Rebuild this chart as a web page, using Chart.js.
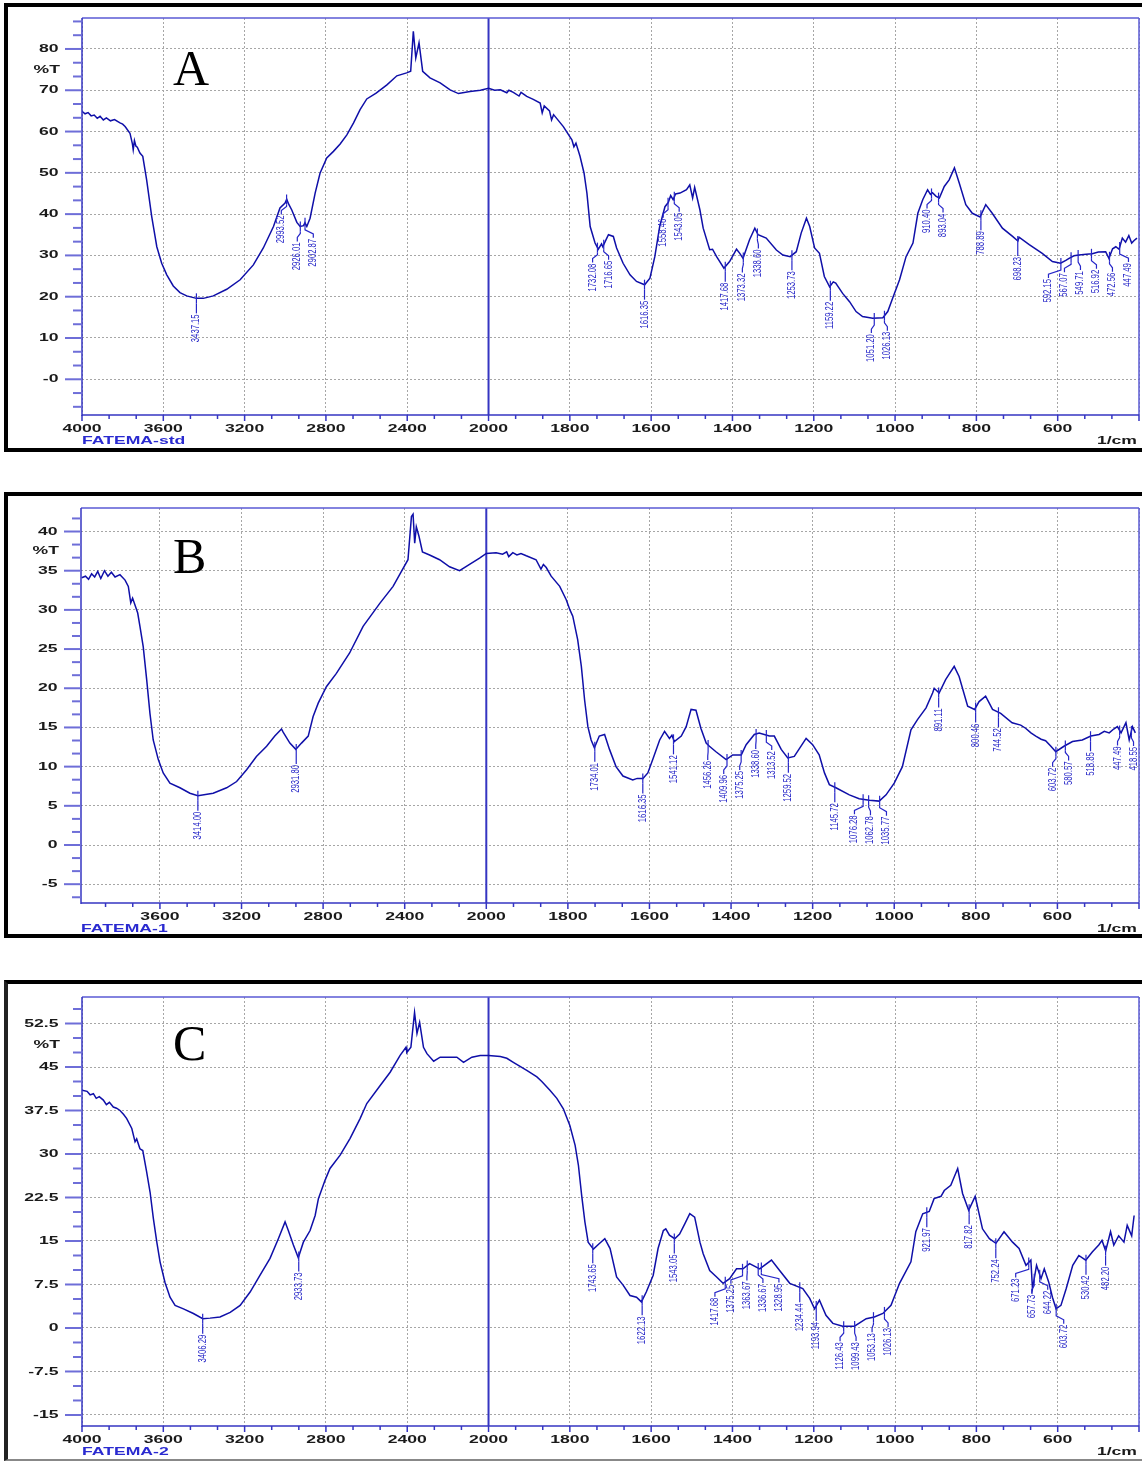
<!DOCTYPE html>
<html><head><meta charset="utf-8">
<script src="https://cdn.jsdelivr.net/npm/chart.js@4.4.1/dist/chart.umd.min.js"></script>
<style>
html,body{margin:0;padding:0;background:#fff;}
body{width:1142px;height:1462px;position:relative;overflow:hidden;}
.box{position:absolute;box-sizing:border-box;}
canvas{position:absolute;left:0;}
</style></head><body>
<div class="box" style="left:4px;top:3px;width:1200px;height:449px;border:4px solid #000"></div>
<div class="box" style="left:4px;top:492px;width:1200px;height:446px;border:4px solid #000"></div>
<div class="box" style="left:4px;top:980px;width:1200px;height:481px;border-top:4px solid #000;border-left:4px solid #222;border-bottom:2px solid #888"></div>
<canvas id="cA" width="1142" height="455" style="top:0;width:1142px;height:455px"></canvas>
<canvas id="cB" width="1142" height="460" style="top:480px;width:1142px;height:460px"></canvas>
<canvas id="cC" width="1142" height="487" style="top:975px;width:1142px;height:487px"></canvas>
<script>
// ---------- DATA ----------
// Panel A (FATEMA-std): wavenumber (1/cm) and %T
const wnA = [4000,3985,3970,3955,3940,3925,3911,3895,3880,3860,3840,3813,3800,3788,3764,3752,3748,3742,3735,3728,3715,3701,3682,3657,3646,3632,3608,3583,3551,3518,3485,3437,3403,3354,3288,3222,3157,3108,3058,3026,3001,2993,2985,2968,2943,2927,2910,2903,2894,2878,2853,2829,2796,2763,2730,2697,2664,2632,2599,2553,2500,2451,2403,2383,2370,2358,2342,2324,2288,2238,2189,2148,2091,2040,2000,1985,1971,1955,1950,1939,1925,1920,1906,1890,1873,1868,1863,1850,1845,1840,1816,1795,1790,1785,1775,1765,1758,1750,1738,1730,1722,1719,1710,1705,1693,1685,1669,1652,1636,1616,1603,1591,1579,1566,1558,1552,1546,1540,1529,1513,1505,1498,1493,1480,1472,1456,1449,1439,1421,1407,1390,1382,1374,1358,1345,1337,1317,1292,1276,1258,1243,1231,1218,1210,1198,1186,1174,1161,1152,1146,1129,1112,1096,1080,1055,1030,1018,1006,989,973,956,944,932,920,913,908,899,891,879,867,854,842,826,810,791,777,761,736,711,698,695,670,638,613,593,580,572,560,548,530,515,500,482,474,465,457,449,441,433,425,418,412,405];
const tA  = [64.9,64.3,64.6,63.8,64.0,63.2,63.7,62.8,63.3,62.6,62.9,62.1,61.8,61.2,59.6,57.0,55.6,57.8,56.5,56.2,54.8,54.0,48.3,39.4,36.2,32.1,28.1,25.3,22.6,21.0,20.2,19.6,19.6,20.2,21.8,24.1,27.7,31.8,37.0,41.5,42.7,43.6,42.6,41.0,38.0,37.0,37.2,37.9,37.0,39.0,45.1,49.9,53.6,55.2,57.0,59.2,62.1,65.3,67.9,69.3,71.3,73.5,74.2,74.6,84.3,77.8,81.5,74.6,73.0,71.8,70.1,69.2,69.7,70.0,70.5,70.0,70.1,69.4,70.0,69.5,68.6,69.5,68.5,67.8,66.9,64.5,66.2,65.0,62.8,64.1,61.2,58.0,56.3,57.2,54.0,49.9,45.1,37.0,33.0,31.5,32.8,32.1,34.0,35.0,34.6,31.8,28.1,25.3,23.7,22.9,24.5,29.7,37.0,41.8,42.8,44.5,43.5,44.9,45.1,45.9,47.1,43.9,46.5,41.0,36.6,31.4,31.5,29.7,26.9,28.5,31.5,30.5,29.3,33.8,36.6,35.0,34.2,31.3,30.1,29.7,30.9,35.4,39.0,37.0,31.8,30.5,24.9,22.4,23.6,23.3,20.8,18.8,16.4,15.2,14.8,14.9,16.4,19.6,24.1,29.7,33.0,40.2,43.5,45.9,44.8,45.2,44.3,43.9,46.7,48.3,51.2,47.5,42.3,40.2,39.3,42.3,40.2,36.6,34.6,33.5,34.4,32.6,30.5,28.5,28.1,28.8,29.3,29.9,30.1,30.3,30.4,30.8,30.9,29.3,31.6,32.1,31.5,34.2,33.2,34.8,33.0,33.6,34.2];
const peaksA = [3437.15,2993.52,2926.01,2902.87,1732.08,1716.65,1616.35,1558.46,1543.05,1417.68,1373.32,1338.60,1253.73,1159.22,1051.20,1026.13,910.40,893.04,788.89,698.23,592.15,567.07,549.71,516.92,472.56,447.49];

// Panel B (FATEMA-1)
const wnB = [3984,3965,3950,3935,3920,3905,3890,3872,3855,3838,3820,3796,3771,3755,3743,3734,3722,3709,3698,3682,3665,3649,3633,3608,3584,3551,3502,3453,3414,3339,3273,3224,3175,3127,3077,3037,3004,2996,2963,2934,2906,2873,2849,2824,2784,2735,2670,2604,2523,2457,2384,2367,2359,2351,2343,2330,2313,2278,2229,2180,2131,2082,2033,2000,1976,1960,1950,1945,1935,1925,1915,1902,1878,1866,1860,1853,1841,1820,1804,1795,1788,1776,1767,1759,1751,1743,1735,1723,1710,1698,1682,1665,1641,1630,1616,1604,1592,1575,1563,1551,1545,1539,1522,1510,1498,1486,1474,1461,1453,1437,1412,1396,1375,1363,1343,1331,1306,1294,1277,1261,1245,1216,1200,1184,1171,1159,1143,1110,1086,1061,1037,1020,1000,980,959,943,922,906,902,890,874,853,841,820,803,792,776,759,739,711,690,678,665,653,640,629,616,604,584,563,539,518,498,485,473,462,453,444,432,424,416,409];
const tB  = [34.1,34.3,33.9,34.6,34.2,34.9,34.0,35.0,34.3,34.8,34.2,34.5,33.8,33.0,30.9,31.5,30.6,29.6,27.9,25.3,21.1,16.8,13.4,10.9,9.2,7.9,7.3,6.6,6.3,6.6,7.3,8.1,9.6,11.3,12.6,13.9,14.8,14.4,13.0,12.2,13.0,13.9,16.4,18.1,20.2,21.9,24.5,27.9,30.8,33.0,36.4,41.9,42.2,38.5,40.6,39.4,37.4,37.0,36.4,35.5,35.0,35.8,36.6,37.2,37.3,37.1,37.4,36.8,37.3,37.0,37.2,36.9,36.4,35.2,35.8,35.4,34.3,33.0,31.3,30.0,29.2,26.2,22.8,18.5,15.1,13.4,12.4,13.9,14.1,12.2,10.0,8.8,8.3,8.5,8.5,9.2,10.9,13.4,14.5,13.6,14.0,13.2,13.9,15.1,17.3,17.2,14.9,13.0,12.6,11.9,10.9,11.5,11.5,12.8,14.1,14.3,13.9,13.9,12.2,11.1,11.3,13.6,12.8,11.5,9.2,7.7,7.3,6.4,5.9,5.7,5.6,6.4,7.9,10.0,14.7,16.0,17.5,19.4,20.0,19.4,21.1,22.8,21.5,17.7,17.3,18.3,19.0,17.3,16.8,15.6,15.3,14.9,14.3,13.9,13.5,13.3,12.6,11.9,12.6,13.2,13.4,13.9,14.1,14.5,14.3,14.8,15.1,14.3,15.6,13.4,15.1,14.3];
const peaksB = [3414.00,2931.80,1734.01,1616.35,1541.12,1456.26,1409.96,1375.25,1338.60,1313.52,1259.52,1145.72,1076.28,1062.78,1035.77,891.11,800.46,744.52,603.72,580.57,518.85,447.49,418.55];

// Panel C (FATEMA-2)
const wnC = [4000,3975,3960,3944,3930,3915,3895,3880,3865,3846,3830,3813,3795,3780,3755,3739,3731,3715,3701,3682,3665,3649,3632,3616,3592,3567,3542,3501,3452,3406,3370,3321,3271,3222,3173,3124,3075,3034,3001,2985,2960,2936,2911,2878,2853,2837,2804,2780,2730,2681,2632,2599,2533,2484,2435,2406,2402,2382,2364,2352,2339,2320,2303,2270,2238,2156,2123,2082,2041,2000,1971,1955,1939,1906,1881,1869,1849,1832,1816,1800,1787,1779,1771,1763,1755,1742,1730,1714,1701,1685,1669,1652,1636,1624,1612,1595,1583,1570,1564,1555,1542,1530,1517,1505,1493,1480,1472,1456,1439,1423,1407,1390,1374,1358,1333,1304,1284,1259,1227,1210,1198,1186,1170,1153,1129,1100,1071,1051,1030,1010,989,961,949,932,916,904,887,879,863,846,834,819,803,785,768,752,732,711,695,678,666,662,652,641,633,622,613,604,592,579,563,548,531,515,499,491,482,470,462,450,437,429,418,412];
const tC  = [41.0,40.8,40.2,40.4,39.6,39.9,39.3,38.5,38.9,38.1,37.9,37.5,36.8,36.1,34.4,32.1,32.6,30.9,30.6,26.9,23.4,18.9,14.8,11.4,7.9,5.3,3.9,3.3,2.5,1.6,1.7,1.9,2.7,3.9,6.2,9.1,12.0,15.4,18.3,16.8,14.3,12.1,14.8,16.8,19.4,22.3,25.5,27.5,29.8,32.7,36.1,38.7,41.8,44.1,47.0,48.4,47.5,48.4,54.4,50.8,52.7,48.4,47.3,46.0,46.7,46.7,45.8,46.7,47.0,47.0,46.8,46.5,45.8,44.4,43.3,42.5,41.0,39.6,37.8,34.9,31.5,28.1,22.9,18.3,14.8,13.6,14.4,15.4,13.7,8.8,7.4,5.6,5.3,4.5,6.2,9.1,13.7,16.8,17.1,16.0,15.4,16.2,18.0,19.7,19.1,14.8,12.8,9.9,8.8,7.7,8.5,10.2,10.2,11.1,10.2,11.7,9.9,7.7,6.8,5.1,3.3,4.8,2.2,0.8,0.3,0.3,1.6,1.9,2.5,3.9,7.7,11.4,16.6,19.7,20.1,22.3,22.7,23.7,24.6,27.5,23.2,20.3,22.7,17.1,15.4,14.6,16.6,14.8,13.7,10.8,11.7,6.8,10.8,8.5,10.2,7.9,5.3,3.3,3.9,6.8,10.8,12.5,11.7,13.1,14.3,15.1,13.3,16.6,14.3,15.9,14.8,17.7,15.9,19.4];
const peaksC = [3406.29,2933.73,1743.65,1622.13,1543.05,1417.68,1375.25,1363.67,1336.67,1328.95,1234.44,1193.94,1126.43,1099.43,1053.13,1026.13,921.97,817.82,752.24,671.23,657.73,644.22,603.72,530.42,482.20];

// Tick values / labels
const xTickWn = [4000,3600,3200,2800,2400,2000,1800,1600,1400,1200,1000,800,600];
const yTicksA = [0,10,20,30,40,50,60,70,80];
const yLabA   = ['-0','10','20','30','40','50','60','70','80'];
const yTicksB = [-5,0,5,10,15,20,25,30,35,40];
const yLabB   = ['-5','0','5','10','15','20','25','30','35','40'];
const yTicksC = [-15,-7.5,0,7.5,15,22.5,30,37.5,45,52.5];
const yLabC   = ['-15','-7.5','0','7.5','15','22.5','30','37.5','45','52.5'];

// ---------- DRAWING ----------
const CURVE='#0f0fa8', LBL='#2626c8', AXIS='#3535c2', TICKC='#6e6ed8', GRID='#a6a6a6', FRAME='#5a5ad4';
const TF='bold 11px "Liberation Sans", Arial, sans-serif';
const SX=1.6;
function toU(w){return w>=2000?(4000-w)/2:1000+(2000-w);}
function interp(ws,ts,w){for(let i=0;i<ws.length-1;i++){if(w<=ws[i]&&w>=ws[i+1]){const f=(ws[i]-w)/(ws[i]-ws[i+1]);return ts[i]+f*(ts[i+1]-ts[i]);}}return ts[ts.length-1];}
function sText(ctx,s,x,y,align,sx,font,color){ctx.save();ctx.font=font;ctx.fillStyle=color;ctx.textBaseline='middle';ctx.textAlign='left';const w=ctx.measureText(s).width*sx;const l=align==='center'?x-w/2:(align==='right'?x-w:x);ctx.translate(l,y);ctx.scale(sx,1);ctx.fillText(s,0,0);ctx.restore();}
function line(ctx,x1,y1,x2,y2){ctx.beginPath();ctx.moveTo(x1,y1);ctx.lineTo(x2,y2);ctx.stroke();}

function makePlugin(m){
  return {
    id:'ftir'+m.key,
    beforeDatasetsDraw(ch){
      const ctx=ch.ctx,ca=ch.chartArea,x=ch.scales.x.getPixelForValue(1000);
      ctx.save();ctx.strokeStyle=AXIS;ctx.lineWidth=2;line(ctx,x,ca.top,x,ca.bottom);ctx.restore();
    },
    afterDraw(ch){
      const ctx=ch.ctx,ca=ch.chartArea,xs=ch.scales.x,ys=ch.scales.y;
      ctx.save();
      ctx.strokeStyle=FRAME;ctx.lineWidth=1.5;
      line(ctx,ca.left,ca.top,ca.right,ca.top);line(ctx,ca.right,ca.top,ca.right,ca.bottom);
      ctx.strokeStyle=AXIS;
      line(ctx,ca.left,ca.top,ca.left,ca.bottom+1);line(ctx,ca.left,ca.bottom,ca.right,ca.bottom);
      const step=(m.yTicks[1]-m.yTicks[0])/3;
      ctx.strokeStyle=TICKC;ctx.lineWidth=2;
      for(let k=Math.ceil(m.yMin/step);k*step<=m.yMax;k++){
        const v=k*step,y=ys.getPixelForValue(v);
        const major=Math.abs(Math.round(k/3)*3-k)<1e-6;
        line(ctx,ca.left-(major?17:9),y,ca.left,y);
      }
      m.yTicks.forEach((v,i)=>sText(ctx,m.yLab[i],ca.left-23.5,ys.getPixelForValue(v),'right',SX,TF,'#1a1a1a'));
      const n=m.yTicks.length;
      sText(ctx,'%T',ca.left-22,(ys.getPixelForValue(m.yTicks[n-1])+ys.getPixelForValue(m.yTicks[n-2]))/2,'right',SX,TF,'#1a1a1a');
      ctx.strokeStyle=AXIS;ctx.lineWidth=1.5;
      for(let k=0;k<=39;k++){
        const u=k*200/3; if(u<m.xMin-0.01) continue;
        const x=xs.getPixelForValue(u);
        line(ctx,x,ca.bottom,x,ca.bottom+(k%3===0?6:4));
      }
      xTickWn.forEach(w=>{const u=toU(w); if(u<m.xMin) return; sText(ctx,String(w),xs.getPixelForValue(u),ca.bottom+13.5,'center',SX,TF,'#1a1a1a');});
      sText(ctx,m.name,ca.left,ca.bottom+26,'left',SX,TF,'#2a2ad0');
      sText(ctx,'1/cm',1137,ca.bottom+26,'right',SX,TF,'#1a1a1a');
      ctx.font='50px "Liberation Serif", "Times New Roman", serif';ctx.fillStyle='#000';ctx.textBaseline='alphabetic';ctx.textAlign='left';
      ctx.fillText(m.letter,173,m.letterY);
      ctx.restore();
      // peak labels
      ctx.save();
      ctx.beginPath();ctx.rect(ca.left,ca.top,ca.right-ca.left,ca.bottom-ca.top);ctx.clip();
      const items=m.peaks.map(w=>({px:xs.getPixelForValue(toU(w)),py:ys.getPixelForValue(interp(m.wn,m.t,w)),txt:w.toFixed(2)}));
      items.sort((a,b)=>a.px-b.px);items.forEach(it=>it.tx=it.px);
      const gap=16;
      for(let it=0;it<80;it++){for(let i=0;i<items.length-1;i++){const d=items[i+1].tx-items[i].tx;if(d<gap){const s=(gap-d)/2;items[i].tx-=s;items[i+1].tx+=s;}}}
      ctx.strokeStyle=LBL;ctx.lineWidth=1.2;
      items.forEach(it=>{
        line(ctx,it.px,it.py-5,it.px,it.py+5);
        ctx.beginPath();ctx.moveTo(it.px,it.py+5);ctx.lineTo(it.px,it.py+7);ctx.lineTo(it.tx,it.py+11);ctx.lineTo(it.tx,it.py+15);ctx.stroke();
        ctx.save();ctx.translate(it.tx,it.py+16);ctx.rotate(-Math.PI/2);ctx.scale(0.7,1);
        ctx.font='11px "Liberation Sans", Arial, sans-serif';ctx.fillStyle=LBL;ctx.textAlign='right';ctx.textBaseline='middle';
        ctx.fillText(it.txt,0,0);ctx.restore();
      });
      ctx.restore();
    }
  };
}

function makeChart(id,m){
  const cv=document.getElementById(id);
  const H=cv.height;
  return new Chart(cv,{
    type:'line',
    data:{datasets:[{data:m.wn.map((w,i)=>({x:toU(w),y:m.t[i]})),borderColor:CURVE,borderWidth:1.5,pointRadius:0,tension:0,fill:false}]},
    options:{
      responsive:false,animation:false,devicePixelRatio:1,
      layout:{padding:{top:m.top,right:3,left:0,bottom:0}},
      plugins:{legend:{display:false},tooltip:{enabled:false}},
      scales:{
        x:{type:'linear',min:m.xMin,max:2600,
           afterBuildTicks:s=>{const t=[];for(let u=0;u<=2600;u+=200){if(u>=m.xMin)t.push({value:u});}s.ticks=t;},
           afterFit:s=>{s.height=H-m.bottom;},
           ticks:{display:false},
           grid:{color:c=>(c.tick&&c.tick.value===1000)?'rgba(0,0,0,0)':GRID,drawTicks:false,lineWidth:1},
           border:{display:false,dash:[2,2]}},
        y:{type:'linear',min:m.yMin,max:m.yMax,
           afterBuildTicks:s=>{s.ticks=m.yTicks.map(v=>({value:v}));},
           afterFit:s=>{s.width=m.left;},
           ticks:{display:false},
           grid:{color:GRID,drawTicks:false,lineWidth:1},
           border:{display:false,dash:[2,2]}}
      }
    },
    plugins:[makePlugin(m)]
  });
}

makeChart('cA',{key:'A',wn:wnA,t:tA,peaks:peaksA,yMin:-8.65,yMax:87.5,yTicks:yTicksA,yLab:yLabA,xMin:0,left:82,top:18,bottom:415,letter:'A',letterY:85,name:'FATEMA-std'});
makeChart('cB',{key:'B',wn:wnB,t:tB,peaks:peaksB,yMin:-7.4,yMax:43.0,yTicks:yTicksB,yLab:yLabB,xMin:6.5,left:81,top:28,bottom:423,letter:'B',letterY:93,name:'FATEMA-1'});
makeChart('cC',{key:'C',wn:wnC,t:tC,peaks:peaksC,yMin:-16.9,yMax:57.07,yTicks:yTicksC,yLab:yLabC,xMin:0,left:82,top:22,bottom:451,letter:'C',letterY:85,name:'FATEMA-2'});
</script>
</body></html>
